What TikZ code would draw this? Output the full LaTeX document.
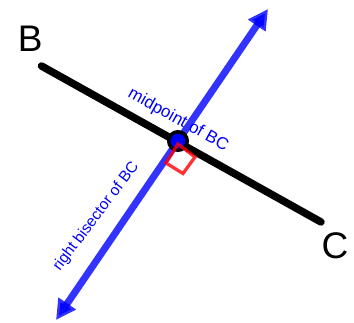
\documentclass[tikz,border=0pt]{standalone}
\usepackage{fontspec}
\setmainfont{Liberation Sans}
\usetikzlibrary{arrows.meta,calc}
\begin{document}
\begin{tikzpicture}[x=1pt,y=-1pt,
  seg/.style={line width=7.5pt,line cap=round,black},
  bis/.style={line width=7pt,blue,opacity=0.8},
  tipfill/.style={line width=7pt,blue,opacity=0.8,line cap=butt},
  ptlabel/.style={font=\fontsize{37}{37}\selectfont,inner sep=0pt},
  bluelabel/.style={text=blue,inner sep=0pt,anchor=base},
  midpt/.style={circle,draw=black,line width=3.5pt,fill=blue,minimum size=18.5pt,inner sep=0pt},
  rightmark/.style={draw=red,opacity=0.8,line width=3.3pt,line join=miter}]
\useasboundingbox (0,0) rectangle (354,323);
\coordinate (Bend) at (41.5,66);
\coordinate (Cend) at (321,222);
\coordinate (top) at (268,9);
\coordinate (bot) at (56,320);
\node[ptlabel] (B) at (30.3,38.5) {B};
\node[ptlabel] (C) at (335,246) {C};
\draw[seg] (Bend) -- (Cend);
\draw[bis,{Triangle[length=20pt,width=20pt]}-{Triangle[length=20pt,width=20pt]}] (bot) -- (top);
\draw[tipfill] ($(top)!20pt!(bot)$) -- ($(top)!12pt!(bot)$);
\draw[tipfill] ($(bot)!20pt!(top)$) -- ($(bot)!12pt!(top)$);
\node[midpt] (M) at (178,141) {};
\coordinate (q1) at (178,144);
\coordinate (q2) at (195,157);
\coordinate (q3) at (183,173.5);
\coordinate (q4) at (166,163);
\draw[rightmark] (q1) -- (q2) -- (q3) -- (q4) -- cycle;
\node[bluelabel,font=\fontsize{17}{17}\selectfont,rotate=-29] (mid) at (176,124) {midpoint of BC};
\node[bluelabel,font=\fontsize{15.5}{15.5}\selectfont,rotate=53] (rb) at (99.5,219) {right bisector of BC};
\end{tikzpicture}
\end{document}
